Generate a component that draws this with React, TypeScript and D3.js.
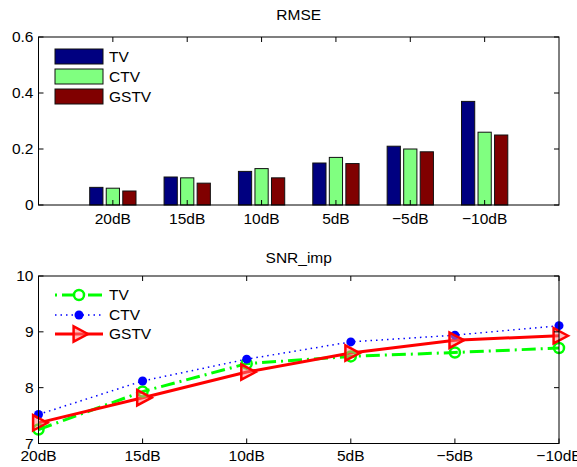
import React from "react";
import * as d3 from "d3";

const categories = ["20dB", "15dB", "10dB", "5dB", "\u22125dB", "\u221210dB"];
const seriesNames = ["TV", "CTV", "GSTV"];
const rmseTV = [0.063, 0.1, 0.12, 0.15, 0.21, 0.37];
const rmseCTV = [0.06, 0.097, 0.13, 0.17, 0.2, 0.26];
const rmseGSTV = [0.05, 0.078, 0.097, 0.148, 0.19, 0.25];
const rmseTicks = [0, 0.2, 0.4, 0.6];
const snrTV = [7.25, 7.93, 8.43, 8.56, 8.63, 8.71];
const snrCTV = [7.52, 8.12, 8.51, 8.82, 8.94, 9.11];
const snrGSTV = [7.37, 7.82, 8.28, 8.62, 8.85, 8.93];
const snrTicks = [7, 8, 9, 10];

const barColors = ["#000080", "#80ff80", "#800000"];
const FONT = "Liberation Sans, Arial, Helvetica, sans-serif";
const FS = 15.5;

const L = 38.5;
const R = 559;
const T1 = 37;
const B1 = 205;
const T2 = 276;
const B2 = 443.5;
const TICK = 5;

function RmseChart() {
  const x = d3.scaleLinear().domain([0, 7]).range([L, R]);
  const y = d3.scaleLinear().domain([0, 0.6]).range([B1, T1]);
  const data = [rmseTV, rmseCTV, rmseGSTV];
  const slot = 0.667 / 3;
  const bw = x(slot * 0.8) - x(0);
  return (
    <g>
      <text x={(L + R) / 2} y={20} textAnchor="middle" fontFamily={FONT} fontSize={FS}>RMSE</text>
      {data.map((vals, s) =>
        vals.map((v, i) => {
          const cx = x(i + 1 + (s - 1) * slot);
          return (
            <rect key={`${s}-${i}`} x={cx - bw / 2} y={y(v)} width={bw} height={y(0) - y(v)}
              fill={barColors[s]} stroke="#111" strokeWidth={1} />
          );
        })
      )}
      <rect x={L} y={T1} width={R - L} height={B1 - T1} fill="none" stroke="#000" strokeWidth={1} />
      {rmseTicks.map((t) => (
        <g key={t}>
          <line x1={L} x2={L + TICK} y1={y(t)} y2={y(t)} stroke="#000" />
          <line x1={R} x2={R - TICK} y1={y(t)} y2={y(t)} stroke="#000" />
          <text x={L - 5} y={y(t)} dy="0.35em" textAnchor="end" fontFamily={FONT} fontSize={FS}>
            {t === 0 ? "0" : d3.format(".1f")(t)}
          </text>
        </g>
      ))}
      {categories.map((c, i) => (
        <g key={c}>
          <line x1={x(i + 1)} x2={x(i + 1)} y1={B1} y2={B1 - TICK} stroke="#000" />
          <line x1={x(i + 1)} x2={x(i + 1)} y1={T1} y2={T1 + TICK} stroke="#000" />
          <text x={x(i + 1)} y={B1 + 14} dy="0.35em" textAnchor="middle" fontFamily={FONT} fontSize={FS}>{c}</text>
        </g>
      ))}
      {seriesNames.map((n, s) => (
        <g key={n}>
          <rect x={55} y={49 + s * 20} width={48} height={15} fill={barColors[s]} stroke="#111" strokeWidth={1} />
          <text x={109} y={56.5 + s * 20} dy="0.35em" fontFamily={FONT} fontSize={FS}>{n}</text>
        </g>
      ))}
    </g>
  );
}

function triPath(cx: number, cy: number, r: number) {
  return `M${cx + r},${cy} L${cx - r * 0.6},${cy - r * 0.85} L${cx - r * 0.6},${cy + r * 0.85} Z`;
}

function SnrChart() {
  const x = d3.scalePoint<string>().domain(categories).range([L, R]);
  const y = d3.scaleLinear().domain([7, 10]).range([B2, T2]);
  const line = d3.line<number>().x((_, i) => x(categories[i])!).y((v) => y(v));
  const legY = [295, 315, 334];
  return (
    <g>
      <text x={(L + R) / 2} y={263} textAnchor="middle" fontFamily={FONT} fontSize={FS}>SNR_imp</text>
      <g>
        <path d={line(snrTV)!} fill="none" stroke="#00ff00" strokeWidth={3} strokeDasharray="14 5 2 5" />
        <path d={line(snrCTV)!} fill="none" stroke="#0000ff" strokeWidth={1.5} strokeDasharray="1.5 4" />
        <path d={line(snrGSTV)!} fill="none" stroke="#ff0000" strokeWidth={3} />
        {snrTV.map((v, i) => (
          <circle key={`tv${i}`} cx={x(categories[i])} cy={y(v)} r={5} fill="none" stroke="#00ff00" strokeWidth={2.5} />
        ))}
        {snrCTV.map((v, i) => (
          <circle key={`ctv${i}`} cx={x(categories[i])} cy={y(v)} r={4.5} fill="#0000ff" />
        ))}
        {snrGSTV.map((v, i) => (
          <path key={`gs${i}`} d={triPath(x(categories[i])!, y(v), 9)} fill="#ff8080" fillOpacity={0.5} stroke="#ff0000" strokeWidth={2.5} strokeLinejoin="miter" />
        ))}
      </g>
      <rect x={L} y={T2} width={R - L} height={B2 - T2} fill="none" stroke="#000" strokeWidth={1} />
      {snrTicks.map((t) => (
        <g key={t}>
          <line x1={L} x2={L + TICK} y1={y(t)} y2={y(t)} stroke="#000" />
          <line x1={R} x2={R - TICK} y1={y(t)} y2={y(t)} stroke="#000" />
          <text x={L - 5} y={y(t)} dy="0.35em" textAnchor="end" fontFamily={FONT} fontSize={FS}>{t}</text>
        </g>
      ))}
      {categories.map((c) => (
        <g key={c}>
          <line x1={x(c)} x2={x(c)} y1={B2} y2={B2 - TICK} stroke="#000" />
          <line x1={x(c)} x2={x(c)} y1={T2} y2={T2 + TICK} stroke="#000" />
          <text x={x(c)} y={B2 + 12} dy="0.35em" textAnchor="middle" fontFamily={FONT} fontSize={FS}>{c}</text>
        </g>
      ))}
      <line x1={55} x2={103} y1={legY[0]} y2={legY[0]} stroke="#00ff00" strokeWidth={3} strokeDasharray="2 5 14 5 2 5 14" />
      <circle cx={79} cy={legY[0]} r={5} fill="#fff" stroke="#00ff00" strokeWidth={2.5} />
      <line x1={55} x2={103} y1={legY[1]} y2={legY[1]} stroke="#0000ff" strokeWidth={1.5} strokeDasharray="1.5 4" />
      <circle cx={79} cy={legY[1]} r={4.5} fill="#0000ff" />
      <line x1={55} x2={103} y1={legY[2]} y2={legY[2]} stroke="#ff0000" strokeWidth={3} />
      <path d={triPath(79, legY[2], 9)} fill="#ff8080" fillOpacity={0.5} stroke="#ff0000" strokeWidth={2.5} />
      {seriesNames.map((n, s) => (
        <text key={n} x={109} y={legY[s]} dy="0.35em" fontFamily={FONT} fontSize={FS}>{n}</text>
      ))}
    </g>
  );
}

export default function App() {
  return (
    <svg width={577} height={467} style={{ position: "absolute", left: 0, top: 0, background: "#fff" }}>
      <rect width={577} height={467} fill="#fff" />
      <RmseChart />
      <SnrChart />
    </svg>
  );
}
